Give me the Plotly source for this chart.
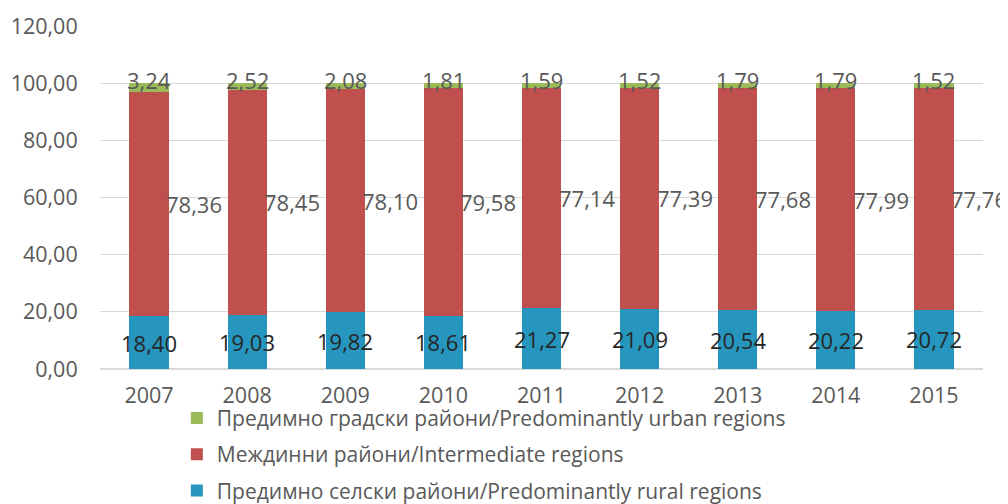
import plotly.graph_objects as go

years = ["2007", "2008", "2009", "2010", "2011", "2012", "2013", "2014", "2015"]
rural = [18.40, 19.03, 19.82, 18.61, 21.27, 21.09, 20.54, 20.22, 20.72]
intermediate = [78.36, 78.45, 78.10, 79.58, 77.14, 77.39, 77.68, 77.99, 77.76]
urban = [3.24, 2.52, 2.08, 1.81, 1.59, 1.52, 1.79, 1.79, 1.52]

names = [
    "Предимно селски райони/Predominantly rural regions",
    "Междинни райони/Intermediate regions",
    "Предимно градски райони/Predominantly urban regions",
]
colors = ["#2796bf", "#c0504d", "#9bbb59"]

def fmt(v):
    return f"{v:.2f}".replace(".", ",")

FONT = "Open Sans"
GREY = "#595959"
SZ = 21
NSZ = 22
TSZ = 21.5

fig = go.Figure()
fig.add_trace(go.Bar(x=years, y=rural, name=names[0], legendgroup="a", legendrank=3,
                     marker=dict(color=colors[0], line=dict(width=0))))
fig.add_trace(go.Bar(x=years, y=intermediate, name=names[1], legendgroup="b", legendrank=2,
                     marker=dict(color=colors[1], line=dict(width=0))))
fig.add_trace(go.Bar(x=years, y=urban, name=names[2], legendgroup="c", legendrank=1,
                     marker=dict(color=colors[2], line=dict(width=0))))

for i, yr in enumerate(years):
    fig.add_annotation(x=i, y=rural[i] / 2, text=fmt(rural[i]),
                       showarrow=False, xanchor="center", yanchor="middle",
                       font=dict(color="#262626", size=NSZ, family=FONT))
    fig.add_annotation(x=i, y=rural[i] + intermediate[i] / 2, text=fmt(intermediate[i]),
                       showarrow=False, xanchor="left", xshift=15, yanchor="middle",
                       font=dict(color=GREY, size=NSZ, family=FONT))
    fig.add_annotation(x=i, y=rural[i] + intermediate[i] + urban[i], text=fmt(urban[i]),
                       showarrow=False, xanchor="center", yanchor="middle", yshift=3,
                       font=dict(color=GREY, size=NSZ, family=FONT))

fig.update_layout(
    barmode="stack",
    bargap=0.6,
    width=1008, height=504,
    margin=dict(l=92, r=33, t=18, b=143, autoexpand=False),
    paper_bgcolor="white", plot_bgcolor="white",
    separators=", ",
    font=dict(family=FONT, color=GREY, size=SZ),
    showlegend=True,
    legend=dict(orientation="v", traceorder="grouped", x=0.087, xanchor="left",
                y=-0.084, yanchor="top", font=dict(size=SZ, color=GREY, family=FONT),
                tracegroupgap=6, bgcolor="rgba(0,0,0,0)"),
    xaxis=dict(type="category", range=[-0.5, 8.5], autorange=False, automargin=False,
               showgrid=False, tickfont=dict(size=TSZ, color=GREY), showline=True,
               linecolor="#d9d9d9", linewidth=1, ticks="outside", ticklen=7,
               tickcolor="rgba(0,0,0,0)"),
    yaxis=dict(range=[0, 120], autorange=False, automargin=False, dtick=20, tickformat=".2f",
               gridcolor="#d9d9d9", zeroline=True, zerolinecolor="#d9d9d9",
               tickfont=dict(size=TSZ, color=GREY),
               ticks="outside", ticklen=17, tickcolor="rgba(0,0,0,0)"),
)

fig.write_html("out.html")
